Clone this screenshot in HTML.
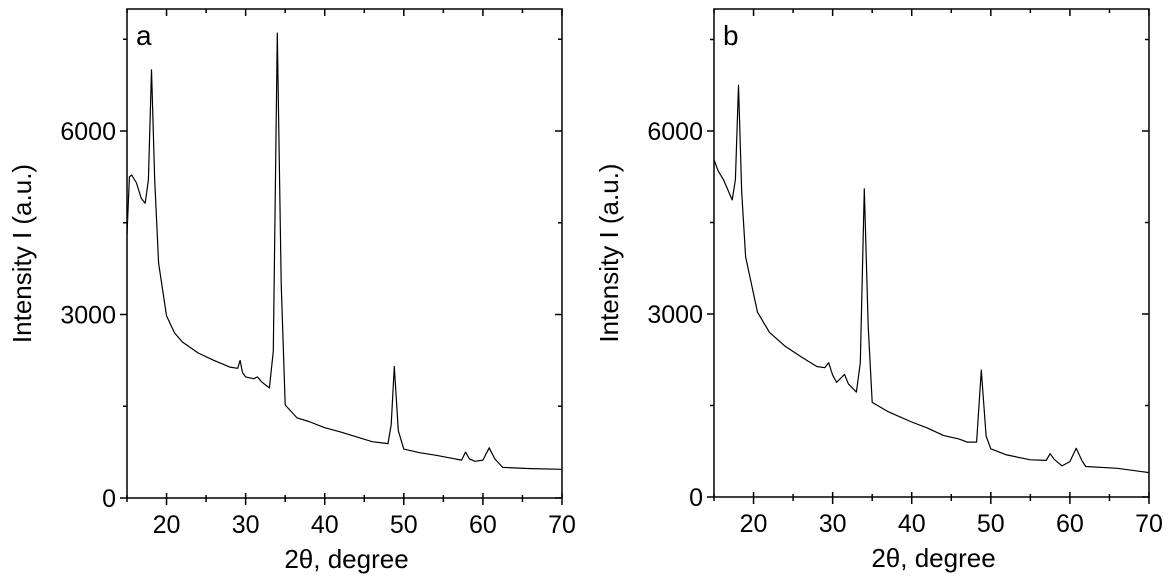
<!DOCTYPE html>
<html><head><meta charset="utf-8"><style>
body{margin:0;background:#fff;}
svg{display:block;font-family:"Liberation Sans",Arial,sans-serif;}
</style></head><body>
<svg id="chart" width="1169" height="586" viewBox="0 0 1169 586"></svg>
<script>
const xTicks=[20,30,40,50,60,70];
const xMinor=[15,25,35,45,55,65];
const yTicks=[0,3000,6000];
const yMinor=[1500,4500,7500];
const seriesAx=[15,15.3,15.6,16.2,16.8,17.3,17.7,18.1,18.5,19,20,21,22,24,26,28,29,29.3,29.6,30,31,31.5,32,33,33.5,34,34.5,35,36.5,38,40,42,44,46,48,48.4,48.8,49.3,50,52,54,56,57.3,57.8,58.3,59,60,60.8,61.5,62.5,66,70];
const seriesAy=[4300,5250,5280,5150,4900,4820,5200,7000,5200,3840,2980,2700,2550,2370,2250,2140,2120,2250,2050,1980,1950,1980,1900,1800,2400,7600,3500,1520,1310,1250,1150,1080,1000,920,890,1200,2150,1100,800,740,700,650,620,750,640,600,620,820,640,500,480,470];
const seriesBx=[15,15.5,16.2,17.3,17.7,18.1,18.5,19,20.5,22,24,26,28,29,29.5,30,30.5,31.5,32,33,33.5,34,34.5,35,37,40,42,44,46,47,48.2,48.8,49.4,50,52,55,57,57.5,58,59,60,60.8,61.5,62,66,70];
const seriesBy=[5530,5350,5200,4870,5200,6750,5000,3940,3030,2700,2470,2300,2140,2120,2200,2000,1880,2010,1850,1720,2200,5050,2800,1550,1400,1230,1130,1010,950,900,900,2080,1000,790,690,610,600,710,620,510,580,800,600,500,470,400];
const ns="http://www.w3.org/2000/svg";
const svg=document.getElementById('chart');
function mk(tag,attrs,parent){const e=document.createElementNS(ns,tag);for(const k in attrs)e.setAttribute(k,attrs[k]);(parent||svg).appendChild(e);return e;}
function panel(L,R,T,B,xs,ys,letter,pname){
  const g=mk('g',{});
  
  
  const xS=v=>L+(v-15)/(70-15)*(R-L);
  const yS=v=>B-v/6000*(B-131);
  const fr=mk('rect',{x:L,y:T,width:R-L,height:B-T,fill:'none',stroke:'#000','stroke-width':1.5},g);
  
  
  xTicks.forEach(v=>{const x=xS(v);
    mk('line',{x1:x,y1:B-5,x2:x,y2:B+7,stroke:'#000','stroke-width':1.5},g);
    mk('line',{x1:x,y1:T,x2:x,y2:T+7,stroke:'#000','stroke-width':1.5},g);
    const t=mk('text',{x:x,y:B+35,'font-size':25,'text-anchor':'middle'},g);t.textContent=v;
    
    
  });
  xMinor.forEach(v=>{const x=xS(v);
    mk('line',{x1:x,y1:B-3,x2:x,y2:B+4,stroke:'#000','stroke-width':1.5},g);
    mk('line',{x1:x,y1:T,x2:x,y2:T+4,stroke:'#000','stroke-width':1.5},g);});
  yTicks.forEach(v=>{const y=yS(v);
    mk('line',{x1:L-7,y1:y,x2:L,y2:y,stroke:'#000','stroke-width':1.5},g);
    mk('line',{x1:R-7,y1:y,x2:R,y2:y,stroke:'#000','stroke-width':1.5},g);
    const t=mk('text',{x:L-11,y:y+9,'font-size':25,'text-anchor':'end'},g);t.textContent=v;
    
    
  });
  yMinor.forEach(v=>{const y=yS(v);
    mk('line',{x1:L-4,y1:y,x2:L,y2:y,stroke:'#000','stroke-width':1.5},g);
    mk('line',{x1:R-4,y1:y,x2:R,y2:y,stroke:'#000','stroke-width':1.5},g);});
  const pts=xs.map((x,i)=>xS(x).toFixed(1)+','+yS(ys[i]).toFixed(1)).join(' ');
  const pl=mk('polyline',{points:pts,fill:'none',stroke:'#000','stroke-width':1.2,'stroke-linejoin':'round'},g);
  
  
  const lt=mk('text',{x:L+9,y:T+36,'font-size':28},g);lt.textContent=letter;
  
  
  const xt=mk('text',{x:(L+R)/2+2,y:B+70,'font-size':26,'text-anchor':'middle'},g);xt.textContent='2θ, degree';
  
  
  const cx=L-96,cy=(T+B)/2;
  const yt=mk('text',{x:cx,y:cy,'font-size':26,'text-anchor':'middle',transform:`rotate(-90 ${cx} ${cy})`},g);yt.textContent='Intensity I (a.u.)';
  
  
}
panel(127,562,9,498,seriesAx,seriesAy,'a','panel-a');
panel(714,1149,9,497,seriesBx,seriesBy,'b','panel-b');
</script>
</body></html>
